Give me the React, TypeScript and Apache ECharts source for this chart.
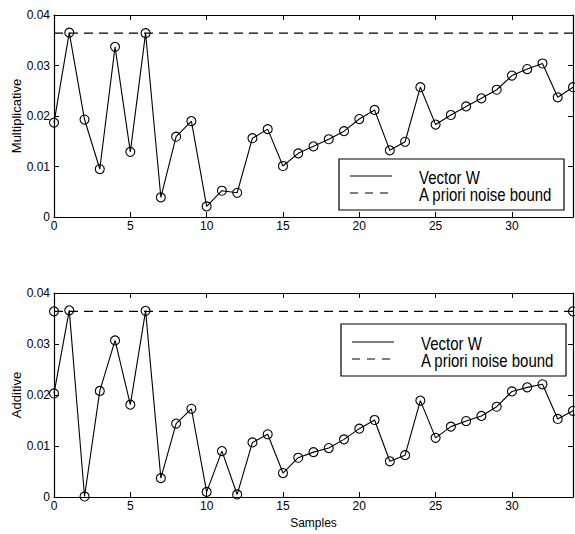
import React, { useEffect, useRef } from "react";
import * as echarts from "echarts";

const samples = [0,1,2,3,4,5,6,7,8,9,10,11,12,13,14,15,16,17,18,19,20,21,22,23,24,25,26,27,28,29,30,31,32,33,34];
const multiplicative = [0.0187,0.0365,0.0193,0.0095,0.0337,0.0129,0.0364,0.0039,0.0159,0.0190,
  0.0021,0.0052,0.0048,0.0156,0.0174,0.0101,0.0126,0.0140,0.0154,0.0170,
  0.0194,0.0212,0.0132,0.0149,0.0257,0.0183,0.0202,0.0219,0.0235,0.0252,
  0.0280,0.0293,0.0304,0.0237,0.0257];
const additive = [0.0203,0.0366,0.0001,0.0208,0.0307,0.0181,0.0365,0.0037,0.0144,0.0173,
  0.0010,0.0090,0.0005,0.0107,0.0123,0.0047,0.0077,0.0088,0.0096,0.0113,
  0.0134,0.0151,0.0070,0.0082,0.0189,0.0116,0.0138,0.0149,0.0159,0.0177,
  0.0207,0.0215,0.0221,0.0153,0.0169];
const noiseBound = [0.0364, 0.0364];
const boundX = [0, 34];
const xTicks = { min: 0, max: 34, interval: 5 };
const yTicks = { min: 0, max: 0.04, interval: 0.01 };
const legendNames = ["Vector W", "A priori noise bound"];
const panelNames = ["Multiplicative", "Additive"];
const xName = "Samples";

const FONT = '"Liberation Sans", Arial, Helvetica, sans-serif';

export default function App() {
  const ref = useRef<HTMLDivElement>(null);
  useEffect(() => {
    const chart = echarts.init(ref.current!, null, { renderer: "svg" });
    const grids = [
      { left: 54, right: 2, top: 15, height: 202, containLabel: false, outerBoundsMode: "none" },
      { left: 54, right: 2, top: 293, height: 204, containLabel: false, outerBoundsMode: "none" },
    ];
    const xAxes: any[] = [];
    const yAxes: any[] = [];
    const series: any[] = [];
    const datasets = [multiplicative, additive];
    const markerStyle = { color: "rgba(0,0,0,0)", borderColor: "#000", borderWidth: 1.1 };
    grids.forEach((_, g) => {
      const baseX = {
        type: "value", gridIndex: g, min: xTicks.min, max: xTicks.max, interval: xTicks.interval,
        splitLine: { show: false },
        axisLine: { show: true, onZero: false, lineStyle: { color: "#000", width: 1.2 } },
        axisTick: { show: true, inside: true, length: 5, lineStyle: { color: "#000" } },
      };
      xAxes.push({
        ...baseX, position: "bottom",
        name: g === 1 ? xName : "", nameLocation: "middle", nameGap: 20, nameMoveOverlap: false,
        nameTextStyle: { color: "#000", fontFamily: FONT, fontSize: 12 },
        axisLabel: { show: true, color: "#000", fontFamily: FONT, fontSize: 12, margin: 3, showMaxLabel: false },
      });
      xAxes.push({ ...baseX, position: "top", axisLabel: { show: false } });
      const baseY = {
        type: "value", gridIndex: g, min: yTicks.min, max: yTicks.max, interval: yTicks.interval,
        splitLine: { show: false },
        axisLine: { show: true, onZero: false, lineStyle: { color: "#000", width: 1.2 } },
        axisTick: { show: true, inside: true, length: 5, lineStyle: { color: "#000" } },
      };
      yAxes.push({
        ...baseY, position: "left",
        name: panelNames[g], nameLocation: "middle", nameGap: 31, nameRotate: 90, nameMoveOverlap: false,
        nameTextStyle: { color: "#000", fontFamily: FONT, fontSize: 13 },
        axisLabel: {
          show: true, color: "#000", fontFamily: FONT, fontSize: 12, margin: 4,
          formatter: (v: number) => (v === 0 ? "0" : v.toFixed(2)),
        },
      });
      yAxes.push({ ...baseY, position: "right", axisLabel: { show: false } });
      series.push({
        type: "line", name: legendNames[0], xAxisIndex: g * 2, yAxisIndex: g * 2,
        data: samples.map((s, i) => [s, datasets[g][i]]),
        symbol: "circle", symbolSize: 9,
        lineStyle: { color: "#000", width: 1.1 },
        itemStyle: markerStyle,
        clip: false, z: 3,
      });
      series.push({
        type: "line", name: legendNames[1], xAxisIndex: g * 2, yAxisIndex: g * 2,
        data: boundX.map((x, i) => [x, noiseBound[i]]),
        showSymbol: g === 1, symbol: "circle", symbolSize: 9,
        lineStyle: { color: "#000", width: 1.2, type: [9, 6] },
        itemStyle: markerStyle,
        clip: false, z: 2,
      });
    });

    const legendBoxes = [
      { x: 339, y: 159, w: 225, h: 51, r1: 176, r2: 193 },
      { x: 341, y: 324, w: 225, h: 52, r1: 342, r2: 359 },
    ];
    const graphic: any[] = [];
    legendBoxes.forEach((b) => {
      graphic.push({
        type: "rect", shape: { x: b.x, y: b.y, width: b.w, height: b.h },
        style: { fill: "#fff", stroke: "#000", lineWidth: 1.2 }, z: 10,
      });
      graphic.push({
        type: "line", shape: { x1: b.x + 11, y1: b.r1, x2: b.x + 53, y2: b.r1 },
        style: { stroke: "#000", lineWidth: 1.1 }, z: 11,
      });
      graphic.push({
        type: "line", shape: { x1: b.x + 11, y1: b.r2, x2: b.x + 53, y2: b.r2 },
        style: { stroke: "#000", lineWidth: 1.2, lineDash: [8, 7] }, z: 11,
      });
      [legendNames[0], legendNames[1]].forEach((t, k) => {
        graphic.push({
          type: "text", x: b.x + 80, y: (k === 0 ? b.r1 : b.r2) + 2, scaleY: 1.2,
          style: { text: t, font: `15px ${FONT}`, fill: "#000", textAlign: "left", textVerticalAlign: "middle" }, z: 11,
        });
      });
    });

    chart.setOption({
      animation: false,
      backgroundColor: "#fff",
      grid: grids,
      xAxis: xAxes,
      yAxis: yAxes,
      series,
      graphic,
    });
    return () => chart.dispose();
  }, []);
  return <div ref={ref} style={{ position: "absolute", left: 0, top: 0, width: 575, height: 534 }} />;
}
